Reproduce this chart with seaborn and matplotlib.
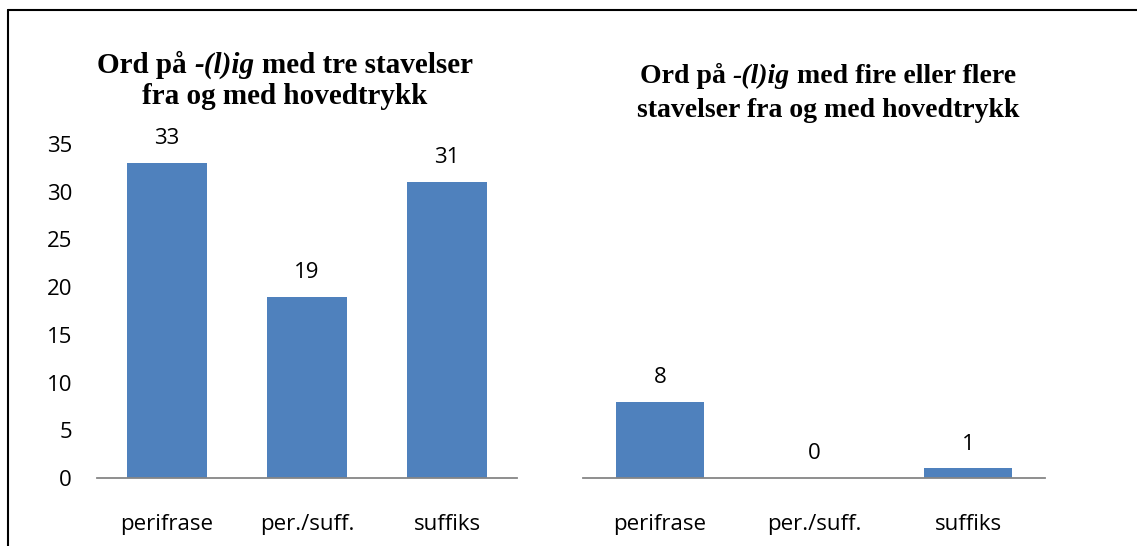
import matplotlib
matplotlib.use('Agg')
import matplotlib.pyplot as plt
from matplotlib.lines import Line2D
from matplotlib.offsetbox import TextArea, HPacker, VPacker, AnnotationBbox
import seaborn as sns

# Data
categories = ['perifrase', 'per./suff.', 'suffiks']
tre_stavelser = [33, 19, 31]
fire_eller_flere = [8, 0, 1]
y_ticks = [0, 5, 10, 15, 20, 25, 30, 35]

# titles: (before, italic part, after) for first line, then second line
title_left = ('Ord på', '-(l)ig', 'med tre stavelser', 'fra og med hovedtrykk')
title_right = ('Ord på', '-(l)ig', 'med fire eller flere', 'stavelser fra og med hovedtrykk')

sns.set_theme(style='white')
plt.rcParams['font.family'] = ['Open Sans', 'DejaVu Sans']
plt.rcParams['text.color'] = 'black'
plt.rcParams['xtick.color'] = 'black'
plt.rcParams['ytick.color'] = 'black'

bar_color = '#4F81BD'
axis_color = '#868686'

fig = plt.figure(figsize=(11.37, 5.46), dpi=100)
ax1 = fig.add_axes([0.0853, 0.1245, 0.3694, 0.6117])
ax2 = fig.add_axes([0.5128, 0.1245, 0.4063, 0.6117])


def draw_panel(ax, values, show_y):
    sns.barplot(x=categories, y=values, ax=ax, color=bar_color, width=0.57,
                saturation=1, edgecolor='none')
    ax.bar_label(ax.containers[0], padding=10, fontsize=16, color='black')
    ax.set_ylim(0, 35)
    ax.set_xlim(-0.5, 2.5)
    for s in ['top', 'right', 'left']:
        ax.spines[s].set_visible(False)
    ax.spines['bottom'].set_color(axis_color)
    ax.spines['bottom'].set_linewidth(1.3)
    ax.tick_params(axis='x', length=0, pad=26, labelsize=16)
    if show_y:
        ax.set_yticks(y_ticks)
        ax.tick_params(axis='y', length=0, pad=18, labelsize=16)
    else:
        ax.set_yticks([])
    ax.set_xlabel('')
    ax.set_ylabel('')
    ax.grid(False)


def add_title(parts, x, y, size, line_sep):
    base = dict(family='Liberation Serif', weight='bold', size=size, color='black')
    ital = dict(base, style='italic')
    space = 0.25 * size
    line1 = HPacker(children=[TextArea(parts[0], textprops=base),
                              TextArea(parts[1], textprops=ital),
                              TextArea(parts[2], textprops=base)],
                    align='baseline', pad=0, sep=space)
    line2 = TextArea(parts[3], textprops=base)
    box = VPacker(children=[line1, line2], align='center', pad=0, sep=line_sep)
    ab = AnnotationBbox(box, (x, y), xycoords='figure fraction', frameon=False,
                        box_alignment=(0.5, 0.5), pad=0)
    fig.add_artist(ab)


draw_panel(ax1, tre_stavelser, True)
draw_panel(ax2, fire_eller_flere, False)

add_title(title_left, 0.2507, 0.8526, 21, 3)
add_title(title_right, 0.7282, 0.8297, 20, 6)

# outer chart frame (only top and left edges are visible in the crop)
fig.add_artist(Line2D([0.007, 1.0], [0.9817, 0.9817], color='black', lw=1.5,
                      transform=fig.transFigure))
fig.add_artist(Line2D([0.007, 0.007], [0.0, 0.9817], color='black', lw=1.5,
                      transform=fig.transFigure))

fig.savefig('out.png', dpi=100)
